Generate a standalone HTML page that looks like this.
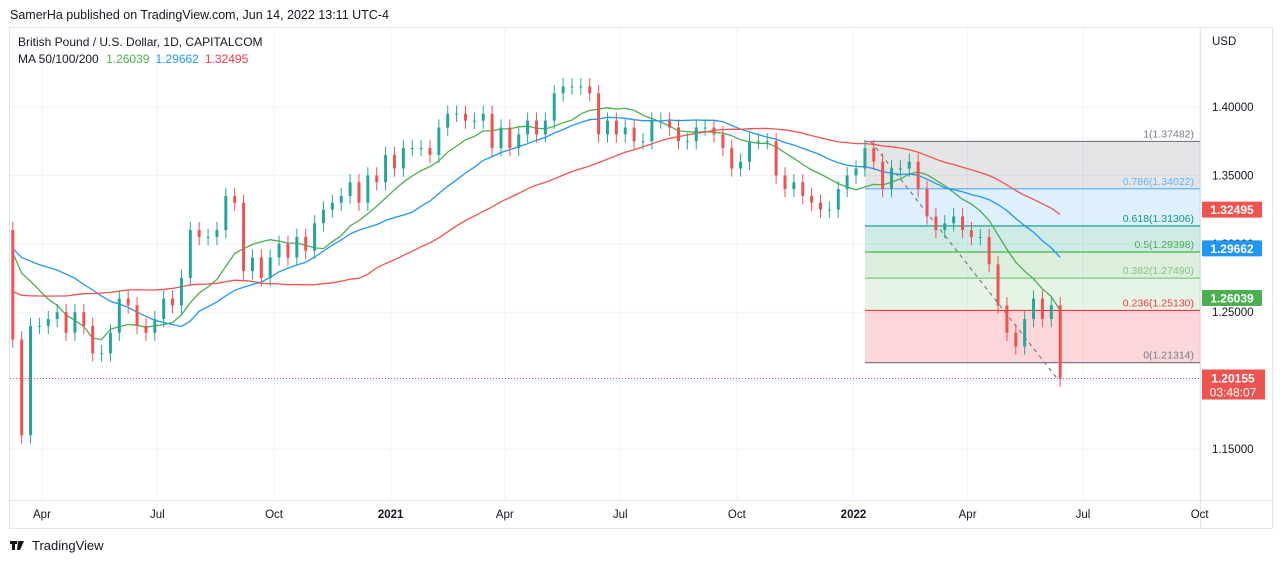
<!DOCTYPE html>
<html><head><meta charset="utf-8"><style>
body{margin:0;background:#fff;width:1280px;height:563px;overflow:hidden;font-family:"Liberation Sans",sans-serif;}
svg{position:absolute;left:0;top:0}
</style></head><body>
<svg id="c" width="1280" height="563">
<text x="10" y="19" font-size="12.5" fill="#131722">SamerHa published on TradingView.com, Jun 14, 2022 13:11 UTC-4</text>
<rect x="9.5" y="27.5" width="1263" height="501" fill="none" stroke="#e0e3eb"/>
<line x1="1200.5" y1="28" x2="1200.5" y2="528" stroke="#e0e3eb"/>
<line x1="10" y1="500.5" x2="1272" y2="500.5" stroke="#e0e3eb"/>
<g id="grid"></g>
<g id="fib"></g>
<g id="ma"></g>
<g id="bars"></g>
<g id="axis"></g>
<text x="18" y="46" font-size="12" fill="#131722">British Pound / U.S. Dollar, 1D, CAPITALCOM</text>
<text x="18" y="63" font-size="12" fill="#131722">MA 50/100/200 <tspan fill="#4caf50" dx="4">1.26039</tspan><tspan fill="#2196f3" dx="6">1.29662</tspan><tspan fill="#f23645" dx="6">1.32495</tspan></text>
<text x="1212" y="45" font-size="11.5" fill="#131722">USD</text>
<g><rect x="10" y="541" width="7" height="3" fill="#131722"/><rect x="12" y="541" width="3" height="9" fill="#131722"/><polygon points="18,541 24,541 20,550 17,550" fill="#131722"/><text x="32" y="550" font-size="13" fill="#131722">TradingView</text></g>
</svg>
<script>
const history=[1.27,1.265,1.27,1.255,1.245,1.25,1.245,1.235,1.215,1.21,1.215,1.205,1.215,1.225,1.22,1.23,1.245,1.245,1.24,1.23,1.23,1.25,1.29,1.295,1.29,1.285,1.29,1.295,1.31,1.33,1.30,1.31,1.31,1.30,1.305,1.31,1.295,1.305,1.29,1.285,1.305];
const closes=[1.23,1.16,1.24,1.24,1.245,1.25,1.235,1.25,1.24,1.22,1.22,1.235,1.26,1.255,1.24,1.235,1.245,1.26,1.255,1.275,1.31,1.305,1.305,1.31,1.335,1.33,1.28,1.29,1.275,1.29,1.30,1.29,1.305,1.295,1.315,1.325,1.33,1.335,1.345,1.33,1.35,1.345,1.365,1.355,1.37,1.37,1.37,1.365,1.385,1.395,1.395,1.39,1.39,1.395,1.37,1.385,1.37,1.38,1.39,1.38,1.39,1.41,1.415,1.415,1.415,1.41,1.38,1.39,1.38,1.385,1.375,1.375,1.39,1.39,1.385,1.375,1.375,1.385,1.385,1.38,1.37,1.355,1.36,1.375,1.375,1.375,1.35,1.34,1.345,1.335,1.33,1.325,1.325,1.34,1.35,1.355,1.37,1.36,1.34,1.355,1.355,1.36,1.34,1.32,1.31,1.315,1.32,1.31,1.305,1.305,1.285,1.255,1.235,1.225,1.245,1.26,1.245,1.255,1.2015];
const firstOpen=1.31;
const priceTicks=[1.40,1.35,1.30,1.25,1.20,1.15];
const timeLabels=["Apr","Jul","Oct","2021","Apr","Jul","Oct","2022","Apr","Jul","Oct"];
const timeDays=[23,114,206,298,388,479,571,663,753,844,936];
const fibLevels=[1,0.786,0.618,0.5,0.382,0.236,0];
const fibHigh=1.37482, fibLow=1.21314;
const maLast=[1.26039,1.29662,1.32495];
const lastPrice=1.20155;

const NS="http://www.w3.org/2000/svg";
const y=p=>107+(1.4-p)*1368;
const xd=d=>12.8+d*1.268;
const xi=i=>xd(i*7);
function mk(parent,tag,attrs){const e=document.createElementNS(NS,tag);for(const k in attrs)e.setAttribute(k,attrs[k]);document.getElementById(parent).appendChild(e);return e;}

priceTicks.forEach(p=>{mk('grid','line',{x1:10,x2:1200,y1:y(p),y2:y(p),stroke:'#f0f3fa'});});
timeDays.forEach(d=>{mk('grid','line',{x1:xd(d),x2:xd(d),y1:28,y2:500,stroke:'#f0f3fa'});});

const fcol=['#787b86','#64b5f6','#089981','#4caf50','#81c784','#f23645','#787b86'];
const ffill=['rgba(120,123,134,0.2)','rgba(33,150,243,0.15)','rgba(8,153,129,0.2)','rgba(76,175,80,0.2)','rgba(129,199,132,0.2)','rgba(242,54,69,0.2)'];
const fx1=865,fx2=1200;
const fp=l=>fibLow+(fibHigh-fibLow)*l;
for(let i=0;i<fibLevels.length-1;i++){
  const r=mk('fib','rect',{x:fx1,y:y(fp(fibLevels[i])),width:fx2-fx1,height:y(fp(fibLevels[i+1]))-y(fp(fibLevels[i])),fill:ffill[i]});
  
  
}
fibLevels.forEach((l,i)=>{
  const ln=mk('fib','line',{x1:fx1,x2:fx2,y1:y(fp(l)),y2:y(fp(l)),stroke:fcol[i],'stroke-width':1.2});
  
  
  const t=mk('fib','text',{x:1194,y:y(fp(l))-4,'font-size':10.5,fill:fcol[i],'text-anchor':'end'});
  
  
  t.textContent=l+'('+fp(l).toFixed(5)+')';
});
const tl=mk('fib','line',{x1:xi(96)+6,y1:y(fibHigh),x2:xi(118)-3,y2:y(lastPrice),stroke:'#787b86','stroke-dasharray':'4,4','stroke-width':1.2});



const all=history.concat(closes);
const H=history.length;
[[10,'#4caf50'],[20,'#2196f3'],[40,'#f05350']].forEach(([n,col])=>{
  let pts=[];
  for(let i=0;i<closes.length;i++){const j=i+H;const s=all.slice(Math.max(0,j-n+1),j+1);const a=s.reduce((u,v)=>u+v,0)/s.length;pts.push(xi(i).toFixed(1)+','+y(a).toFixed(1));}
  const pl=mk('ma','polyline',{points:pts.join(' '),fill:'none',stroke:col,'stroke-width':1.3});
  
  
});

closes.forEach((c,i)=>{
  const o=i?closes[i-1]:firstOpen;
  const col=c>=o?'#26a69a':'#ef5350';
  const x=xi(i);
  const hi=Math.max(o,c)+0.006, lo=Math.min(o,c)-0.006;
  const w=mk('bars','line',{x1:x,x2:x,y1:y(hi),y2:y(lo),stroke:col,'stroke-width':1});
  
  
  const b=mk('bars','rect',{x:x-1.5,y:y(Math.max(o,c)),width:3,height:Math.max(1,Math.abs(y(o)-y(c))),fill:col});
  
  
});

const lp=mk('axis','line',{x1:10,x2:1200,y1:y(lastPrice),y2:y(lastPrice),stroke:'#ef5350','stroke-dasharray':'1,2'});



priceTicks.forEach(p=>{
  const t=mk('axis','text',{x:1212,y:y(p)+4,'font-size':11.5,fill:'#131722'});
  
  
  t.textContent=p.toFixed(5);
});
timeLabels.forEach((s,i)=>{
  const t=mk('axis','text',{x:xd(timeDays[i]),y:518,'font-size':11.5,fill:'#131722','text-anchor':'middle','font-weight':/^\d/.test(s)?'bold':'normal'});
  
  
  t.textContent=s;
});
const tags=[[maLast[2],'#f05350'],[maLast[1],'#2196f3'],[maLast[0],'#4caf50']];
tags.forEach(([v,col])=>{
  const r=mk('axis','rect',{x:1202,y:y(v)-8,width:60,height:16,fill:col,rx:1});
  
  
  const t=mk('axis','text',{x:1232,y:y(v)+4.5,'font-size':12,'font-weight':'bold',fill:'#fff','text-anchor':'middle'});
  t.textContent=v.toFixed(5);
});
const lr=mk('axis','rect',{x:1202,y:y(lastPrice)-9,width:63,height:30,fill:'#ef5350'});


const lt=mk('axis','text',{x:1233,y:y(lastPrice)+4,'font-size':12,'font-weight':'bold',fill:'#fff','text-anchor':'middle'});
lt.textContent=lastPrice.toFixed(5);
const ct=mk('axis','text',{x:1233,y:y(lastPrice)+18,'font-size':12,fill:'#fff','text-anchor':'middle'});


ct.textContent='03:48:07';
</script>
</body></html>
